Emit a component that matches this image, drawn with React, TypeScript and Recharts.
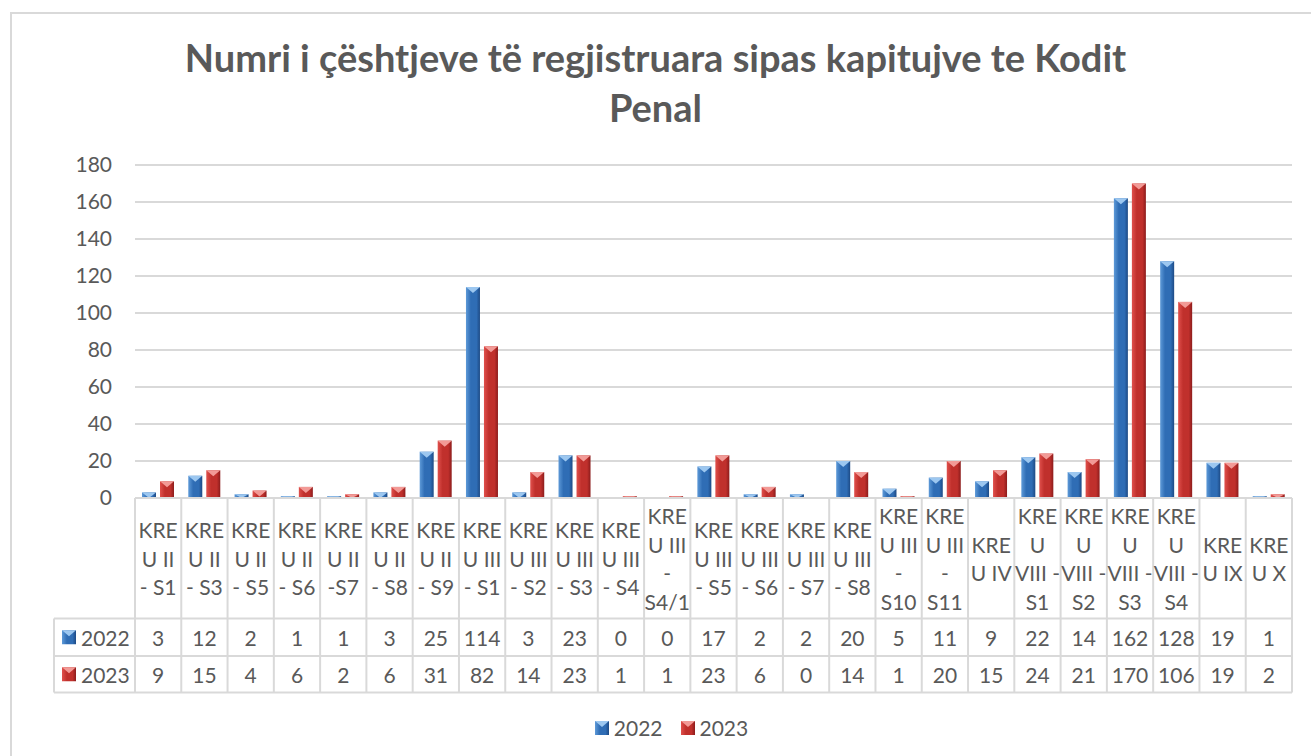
import React from "react";
import { BarChart, Bar, XAxis, YAxis, CartesianGrid } from "recharts";

const categories: string[] = [
  "KRE\nU II\n- S1",
  "KRE\nU II\n- S3",
  "KRE\nU II\n- S5",
  "KRE\nU II\n- S6",
  "KRE\nU II\n-S7",
  "KRE\nU II\n- S8",
  "KRE\nU II\n- S9",
  "KRE\nU III\n- S1",
  "KRE\nU III\n- S2",
  "KRE\nU III\n- S3",
  "KRE\nU III\n- S4",
  "KRE\nU III\n-\nS4/1",
  "KRE\nU III\n- S5",
  "KRE\nU III\n- S6",
  "KRE\nU III\n- S7",
  "KRE\nU III\n- S8",
  "KRE\nU III\n-\nS10",
  "KRE\nU III\n-\nS11",
  "KRE\nU IV",
  "KRE\nU\nVIII -\nS1",
  "KRE\nU\nVIII -\nS2",
  "KRE\nU\nVIII -\nS3",
  "KRE\nU\nVIII -\nS4",
  "KRE\nU IX",
  "KRE\nU X",
];

const values2022: number[] = [3, 12, 2, 1, 1, 3, 25, 114, 3, 23, 0, 0, 17, 2, 2, 20, 5, 11, 9, 22, 14, 162, 128, 19, 1];
const values2023: number[] = [9, 15, 4, 6, 2, 6, 31, 82, 14, 23, 1, 1, 23, 6, 0, 14, 1, 20, 15, 24, 21, 170, 106, 19, 2];

const seriesNames = ["2022", "2023"];
const yTicks = [0, 20, 40, 60, 80, 100, 120, 140, 160, 180];

const titleLines = ["Numri i çështjeve të regjistruara sipas kapitujve te Kodit", "Penal"];

const data = categories.map((c, i) => ({ cat: c, v2022: values2022[i], v2023: values2023[i] }));

const FONT = "Lato, 'Open Sans', sans-serif";
const TEXT = "#595959";
const LINE = "#D9D9D9";
const FS = 21;

const CHART_W = 1311;
const CHART_H = 756;
const MARGIN = { top: 165, right: 19, left: 0, bottom: 63 };
const Y_W = 135;
const X_H = 195;
const PLOT_L = MARGIN.left + Y_W;
const PLOT_R = CHART_W - MARGIN.right;
const COL_W = (PLOT_R - PLOT_L) / categories.length;
const HEADER_L = 54;
const ROW1 = 120.5;
const ROW2 = 158;
const ROW3 = 194.5;

const COLORS = {
  blue: { light: "#5E9AD8", main: "#2F6DB5", dark: "#1D4A85", cap: "#9CC7F0" },
  red: { light: "#E0504C", main: "#C0302C", dark: "#8C1C1C", cap: "#F29A96" },
};

function Icon({ x, y, c }: { x: number; y: number; c: "blue" | "red" }) {
  const s = 14;
  return (
    <g>
      <rect x={x} y={y} width={s} height={s} fill={`url(#grad-${c})`} />
      <polygon points={`${x},${y} ${x + s},${y} ${x + s / 2},${y + 6}`} fill={COLORS[c].cap} />
    </g>
  );
}

function makeShape(c: "blue" | "red") {
  return (props: any) => {
    const { x, y, width, height } = props;
    if (!height || height <= 0.5) {
      return <g />;
    }
    const cap = Math.min(6, height);
    return (
      <g>
        <rect x={x} y={y} width={width} height={height} fill={`url(#grad-${c})`} />
        <polygon points={`${x},${y} ${x + width},${y} ${x + width / 2},${y + cap}`} fill={COLORS[c].cap} />
      </g>
    );
  };
}

const BlueShape = makeShape("blue");
const RedShape = makeShape("red");

function TableTick(props: any) {
  const { x, y, payload } = props;
  const index: number = payload?.index ?? props.index ?? 0;
  const label: string = String(payload?.value ?? "");
  const lines = label.split("\n");
  const left = x - COL_W / 2;
  const right = x + COL_W / 2;
  const cellCenter = y + ROW1 / 2;
  const lh = 28.5;
  const first = cellCenter - ((lines.length - 1) * lh) / 2;
  return (
    <g>
      {index === 0 && (
        <g>
          <line x1={HEADER_L} x2={PLOT_R} y1={y + ROW1} y2={y + ROW1} stroke={LINE} strokeWidth={2} />
          <line x1={HEADER_L} x2={PLOT_R} y1={y + ROW2} y2={y + ROW2} stroke={LINE} strokeWidth={2} />
          <line x1={HEADER_L} x2={PLOT_R} y1={y + ROW3} y2={y + ROW3} stroke={LINE} strokeWidth={2} />
          <line x1={HEADER_L} x2={HEADER_L} y1={y + ROW1} y2={y + ROW3} stroke={LINE} strokeWidth={2} />
          <Icon x={62} y={y + (ROW1 + ROW2) / 2 - 7} c="blue" />
          <Icon x={62} y={y + (ROW2 + ROW3) / 2 - 7} c="red" />
          <text x={81} y={y + (ROW1 + ROW2) / 2} dominantBaseline="central" fontSize={FS} fill={TEXT} fontFamily={FONT}>
            {seriesNames[0]}
          </text>
          <text x={81} y={y + (ROW2 + ROW3) / 2} dominantBaseline="central" fontSize={FS} fill={TEXT} fontFamily={FONT}>
            {seriesNames[1]}
          </text>
        </g>
      )}
      <line x1={left} x2={left} y1={y} y2={y + ROW3} stroke={LINE} strokeWidth={2} />
      {index === categories.length - 1 && (
        <line x1={right} x2={right} y1={y} y2={y + ROW3} stroke={LINE} strokeWidth={2} />
      )}
      {lines.map((ln, i) => (
        <text
          key={i}
          x={x}
          y={first + i * lh}
          textAnchor="middle"
          dominantBaseline="central"
          fontSize={FS}
          fill={TEXT}
          fontFamily={FONT}
        >
          {ln}
        </text>
      ))}
      <text x={x} y={y + (ROW1 + ROW2) / 2} textAnchor="middle" dominantBaseline="central" fontSize={FS} fill={TEXT} fontFamily={FONT}>
        {values2022[index]}
      </text>
      <text x={x} y={y + (ROW2 + ROW3) / 2} textAnchor="middle" dominantBaseline="central" fontSize={FS} fill={TEXT} fontFamily={FONT}>
        {values2023[index]}
      </text>
    </g>
  );
}

export default function App() {
  return (
    <div style={{ position: "absolute", left: 0, top: 0, width: CHART_W, height: CHART_H, background: "#fff", overflow: "hidden", fontFamily: FONT }}>
      <svg width={0} height={0} style={{ position: "absolute" }}>
        <defs>
          {(["blue", "red"] as const).map((c) => (
            <linearGradient key={c} id={`grad-${c}`} x1="0" y1="0" x2="1" y2="0">
              <stop offset="0%" stopColor={COLORS[c].light} />
              <stop offset="35%" stopColor={COLORS[c].main} />
              <stop offset="75%" stopColor={COLORS[c].main} />
              <stop offset="100%" stopColor={COLORS[c].dark} />
            </linearGradient>
          ))}
        </defs>
      </svg>
      <div
        style={{
          position: "absolute",
          left: 10,
          top: 12,
          width: 1340,
          height: 800,
          border: `2px solid ${LINE}`,
          boxSizing: "border-box",
        }}
      />
      <div
        style={{
          position: "absolute",
          left: 0,
          top: 32,
          width: CHART_W,
          textAlign: "center",
          fontWeight: 700,
          fontSize: 38,
          lineHeight: "50px",
          color: TEXT,
        }}
      >
        {titleLines.map((t, i) => (
          <div key={i}>{t}</div>
        ))}
      </div>
      <div style={{ position: "absolute", left: 0, top: 0 }}>
        <BarChart width={CHART_W} height={CHART_H} data={data} margin={MARGIN} barGap={4} barSize={14}>
          <CartesianGrid vertical={false} stroke={LINE} strokeWidth={2} />
          <YAxis
            width={Y_W}
            domain={[0, 180]}
            ticks={yTicks}
            axisLine={false}
            tickLine={false}
            tickSize={0}
            tickMargin={23}
            tick={{ fontSize: FS, fill: TEXT, fontFamily: FONT }}
          />
          <XAxis
            dataKey="cat"
            height={X_H}
            interval={0}
            tickLine={false}
            tickSize={0}
            tickMargin={0}
            axisLine={{ stroke: LINE, strokeWidth: 2 }}
            tick={(p: any) => <TableTick {...p} />}
          />
          <Bar dataKey="v2022" name={seriesNames[0]} shape={BlueShape} isAnimationActive={false} />
          <Bar dataKey="v2023" name={seriesNames[1]} shape={RedShape} isAnimationActive={false} />
        </BarChart>
      </div>
      <div
        style={{
          position: "absolute",
          top: 716,
          left: 0,
          width: CHART_W,
          display: "flex",
          justifyContent: "center",
          alignItems: "center",
          gap: 18,
          fontSize: FS,
          color: TEXT,
          paddingLeft: 32,
          boxSizing: "border-box",
        }}
      >
        {seriesNames.map((n, i) => (
          <div key={n} style={{ display: "flex", alignItems: "center", gap: 5 }}>
            <svg width={14} height={14}>
              <Icon x={0} y={0} c={i === 0 ? "blue" : "red"} />
            </svg>
            <span style={{ lineHeight: "24px" }}>{n}</span>
          </div>
        ))}
      </div>
    </div>
  );
}
